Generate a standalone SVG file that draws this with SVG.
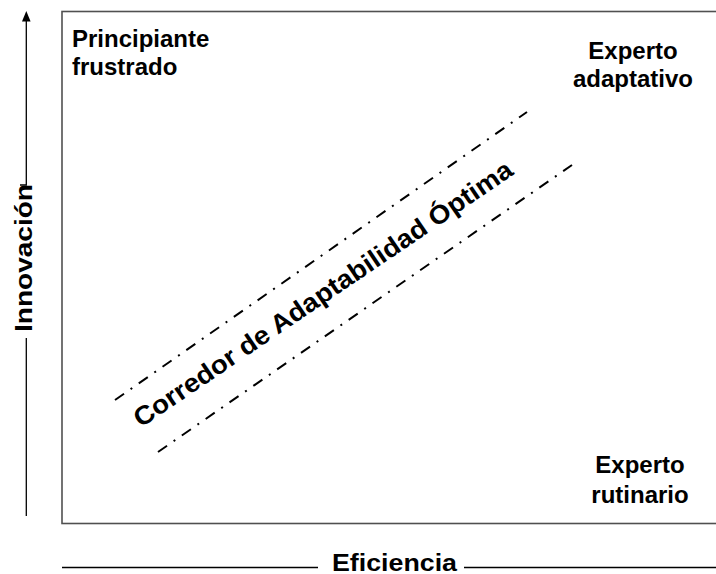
<svg xmlns="http://www.w3.org/2000/svg" width="716" height="574" viewBox="0 0 716 574">
<style>
.lbl{font-family:"Liberation Sans",Arial,sans-serif;font-weight:bold;font-size:24px;fill:#000}
.axis{stroke:#000;stroke-width:1.3;fill:none}
.corr{stroke:#000;stroke-width:2;fill:none;stroke-dasharray:11 8 2 8}
</style>
<rect width="716" height="574" fill="#fff"/>
<g id="frame">
<rect x="62" y="11.5" width="700" height="512" fill="none" stroke="#505050" stroke-width="1.6"/>
</g>
<g id="connectors">
<path class="axis" d="M26.3,20 V185 H20"/>
<path class="axis" d="M26.3,338 V516"/>
<polygon points="26.3,11 22,21.5 30.6,21.5" fill="#000"/>
<path class="axis" d="M62,567.5 H318"/>
<path class="axis" d="M464,567.5 H716"/>
<path class="corr" d="M115,400 L527,112"/>
<path class="corr" d="M158,452 L572,165"/>
</g>
<g id="innovacion">
<text class="lbl" transform="translate(32,258) rotate(-90)" text-anchor="middle" font-size="25" textLength="148" lengthAdjust="spacingAndGlyphs">Innovación</text>
</g>
<g id="eficiencia">
<text class="lbl" x="332" y="570.5" font-size="23.5" textLength="125" lengthAdjust="spacingAndGlyphs">Eficiencia</text>
</g>
<g id="principiante">
<text class="lbl" x="72" y="47">Principiante</text>
<text class="lbl" x="72" y="75">frustrado</text>
</g>
<g id="adaptativo">
<text class="lbl" x="633" y="59" text-anchor="middle">Experto</text>
<text class="lbl" x="633" y="86.5" text-anchor="middle">adaptativo</text>
</g>
<g id="rutinario">
<text class="lbl" x="640" y="473" text-anchor="middle">Experto</text>
<text class="lbl" x="640" y="503" text-anchor="middle">rutinario</text>
</g>
<g id="corredor">
<text transform="translate(141,428) rotate(-34.2)" font-family="Liberation Sans, Arial, sans-serif" font-weight="bold" font-size="26" textLength="452" lengthAdjust="spacingAndGlyphs" fill="#000">Corredor de Adaptabilidad Óptima</text>
</g>
</svg>
